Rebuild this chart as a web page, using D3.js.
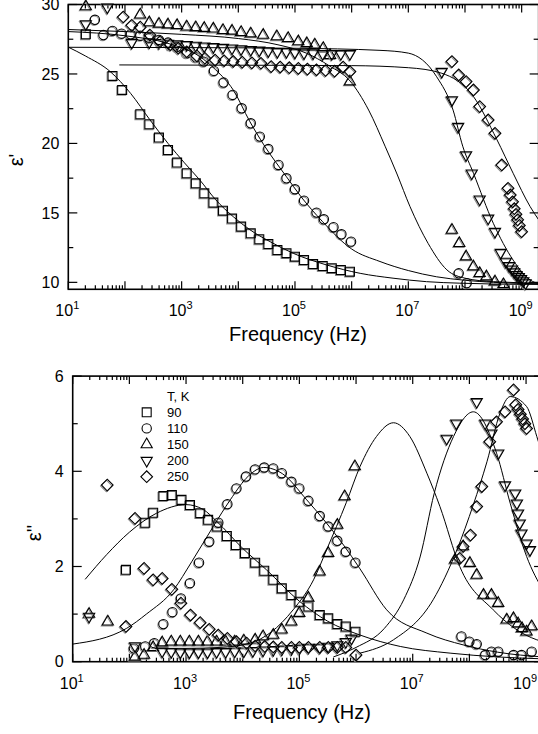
<!DOCTYPE html>
<html>
<head>
<meta charset="utf-8">
<script src="https://cdn.jsdelivr.net/npm/d3@7"></script>
<style>
  body { margin: 0; background: #fff; }
  svg { display: block; font-family: Arial, "Liberation Sans", sans-serif; }
</style>
</head>
<body>
<svg id="chart" width="538" height="734"></svg>
<script>
// frequencies are stored as log10(Hz)
const temps = ['90', '110', '150', '200', '250'];
const symbolNames = ['square', 'circle', 'triangle', 'invTriangle', 'diamond'];
const xTickExps = [1, 3, 5, 7, 9];
const yTicksRe = [10, 15, 20, 25, 30];
const yTicksIm = [0, 2, 4, 6];

// ---- epsilon' (top) ----
const re90 = [[1.31,27.86],[1.78,24.86],[1.95,23.85],[2.27,22.10],[2.43,21.38],[2.60,20.42],[2.76,19.53],[2.92,18.62],[3.09,17.85],[3.25,17.13],[3.40,16.41],[3.56,15.74],[3.73,15.16],[3.89,14.59],[4.05,14.01],[4.22,13.53],[4.37,13.10],[4.53,12.76],[4.69,12.33],[4.85,12.10],[5.00,11.85],[5.16,11.61],[5.32,11.32],[5.49,11.18],[5.65,11.02],[5.81,10.89],[5.97,10.77]];
const re110 = [[1.47,28.9],[1.62,27.8],[1.78,28.1],[1.94,27.9],[2.10,27.85],[2.27,27.75],[2.43,27.6],[2.60,27.45],[2.76,27.26],[2.92,26.95],[3.09,26.49],[3.25,26.2],[3.39,25.89],[3.57,25.22],[3.74,24.38],[3.90,23.49],[4.06,22.53],[4.22,21.45],[4.38,20.49],[4.53,19.6],[4.71,18.45],[4.85,17.49],[5.00,16.70],[5.16,15.88],[5.38,15.02],[5.51,14.54],[5.68,13.97],[5.82,13.46],[5.99,12.93],[7.89,10.65],[8.03,9.94]];
const re150 = [[1.31,29.85],[2.27,29.26],[2.43,28.7],[2.60,28.6],[2.76,28.55],[2.92,28.5],[3.09,28.4],[3.25,28.35],[3.40,28.3],[3.56,28.25],[3.73,28.15],[3.89,28.1],[4.05,28.0],[4.22,27.9],[4.44,27.8],[4.68,27.7],[4.88,27.57],[5.06,27.33],[5.21,27.2],[5.35,27.1],[5.50,26.85],[5.62,26.35],[5.97,24.45],[7.77,13.77],[7.90,12.81],[8.02,11.85],[8.15,11.13],[8.26,10.65],[8.38,10.41],[8.53,10.05],[8.68,9.85]];
const re200 = [[1.31,28.6],[1.69,29.8],[2.12,27.26],[2.43,27.3],[2.60,27.25],[2.76,27.2],[2.92,27.15],[3.09,27.1],[3.25,27.05],[3.40,27.0],[3.56,26.95],[3.73,26.9],[3.89,26.85],[4.05,26.8],[4.22,26.75],[4.37,26.7],[4.53,26.65],[4.69,26.6],[4.85,26.6],[5.00,26.55],[5.16,26.5],[5.32,26.5],[5.49,26.45],[5.65,26.45],[5.81,26.45],[5.97,26.45],[7.59,25.17],[7.77,23.13],[7.88,21.21],[8.02,19.17],[8.12,17.85],[8.26,15.98],[8.41,14.61],[8.53,13.65],[8.63,12.14],[8.72,11.5],[8.78,11.2],[8.83,10.95],[8.87,10.75],[8.91,10.55],[8.95,10.4],[8.99,10.25],[9.03,10.1],[9.07,9.95]];
const re250 = [[1.97,29.1],[2.12,28.5],[2.27,28.37],[2.44,27.8],[2.62,27.33],[2.80,27.1],[2.94,26.85],[3.09,26.6],[3.27,26.3],[3.41,26.13],[3.59,26.0],[3.75,25.95],[3.91,25.9],[4.07,25.85],[4.24,25.8],[4.40,25.77],[4.58,25.53],[4.74,25.5],[4.90,25.45],[5.06,25.4],[5.22,25.35],[5.38,25.3],[5.54,25.25],[5.70,25.2],[5.85,25.5],[5.97,25.17],[7.77,25.89],[7.89,24.93],[8.02,24.45],[8.15,23.85],[8.26,22.65],[8.41,21.69],[8.53,20.73],[8.65,18.45],[8.76,16.77],[8.80,16.29],[8.84,15.8],[8.87,15.3],[8.90,14.9],[8.93,14.5],[8.96,14.1],[9.00,13.65]];

const fitRe90 = [[1.0,26.93],[1.3,26.3],[1.74,25.17],[2.1,23.6],[2.44,21.7],[2.76,20.0],[3.05,18.6],[3.32,17.37],[3.6,15.95],[3.91,14.73],[4.2,13.8],[4.56,12.93],[4.97,12.09],[5.56,11.25],[6.15,10.65],[6.73,10.3],[7.32,10.05],[7.91,9.94],[8.5,9.88],[9.3,9.85]];
const fitRe110 = [[1.0,28.05],[2.0,27.75],[2.76,27.2],[3.32,26.25],[3.6,25.3],[3.91,23.85],[4.2,21.6],[4.45,19.9],[4.85,17.6],[5.1,16.2],[5.48,14.4],[6.0,12.4],[6.5,11.5],[7.0,10.85],[7.5,10.4],[8.0,10.15],[8.5,10.0],[9.3,9.9]];
const fitRe150 = [[1.0,28.2],[2.0,28.05],[3.0,27.85],[4.0,27.55],[4.7,27.1],[5.2,26.5],[5.6,25.6],[5.97,24.5],[6.3,22.4],[6.59,19.8],[6.8,17.8],[7.03,15.45],[7.35,12.8],[7.68,10.9],[8.0,10.3],[8.5,10.05],[9.3,9.95]];
const fitRe200 = [[1.0,26.92],[3.0,26.9],[5.0,26.85],[6.5,26.7],[7.0,26.5],[7.5,24.8],[7.79,22.4],[7.96,19.8],[8.15,17.85],[8.5,14.25],[8.85,11.6],[9.15,10.17],[9.3,9.9]];
const fitRe250 = [[1.9,25.65],[4.0,25.63],[6.0,25.6],[7.0,25.45],[7.59,25.05],[8.15,23.37],[8.56,20.3],[8.85,17.85],[9.15,15.45],[9.3,14.5]];

// ---- epsilon'' (bottom) ----
const im90 = [[1.94,1.93],[2.28,2.92],[2.42,3.13],[2.60,3.48],[2.75,3.50],[2.92,3.40],[3.07,3.29],[3.25,3.12],[3.39,2.98],[3.55,2.84],[3.72,2.64],[3.88,2.45],[4.04,2.28],[4.22,2.08],[4.38,1.91],[4.54,1.72],[4.69,1.54],[4.86,1.40],[5.00,1.26],[5.16,1.16],[5.36,0.98],[5.51,0.91],[5.67,0.79],[5.82,0.74],[5.99,0.63]];
const im110 = [[2.08,0.28],[2.28,0.32],[2.44,0.39],[2.60,0.79],[2.76,1.04],[2.91,1.33],[3.07,1.65],[3.23,2.08],[3.41,2.52],[3.57,2.92],[3.73,3.31],[3.89,3.64],[4.06,3.89],[4.22,4.04],[4.38,4.08],[4.54,4.06],[4.69,3.96],[4.86,3.78],[5.00,3.64],[5.16,3.38],[5.36,3.06],[5.51,2.84],[5.67,2.54],[5.82,2.31],[5.99,2.08],[7.86,0.53],[8.00,0.42],[8.13,0.37],[8.28,0.14],[8.39,0.21],[8.51,0.21],[8.78,0.14],[8.92,0.14],[9.10,0.21]];
const im150 = [[1.29,1.0],[1.62,0.84],[2.10,0.10],[2.26,0.14],[2.42,0.30],[2.58,0.40],[2.74,0.42],[2.90,0.42],[3.06,0.42],[3.22,0.42],[3.38,0.42],[3.54,0.42],[3.70,0.42],[3.86,0.42],[4.02,0.44],[4.22,0.46],[4.36,0.53],[4.54,0.56],[4.69,0.67],[4.86,0.84],[5.00,1.02],[5.16,1.34],[5.36,1.89],[5.51,2.28],[5.67,2.87],[5.80,3.47],[5.98,4.10],[7.75,2.14],[7.89,2.42],[8.01,2.07],[8.13,1.82],[8.25,1.40],[8.39,1.40],[8.51,1.23],[8.66,0.88],[8.78,0.91],[8.86,0.80],[8.93,0.70],[9.01,0.63],[9.10,0.74]];
const im200 = [[1.29,0.95],[2.10,0.33],[2.58,0.22],[2.74,0.21],[2.90,0.20],[3.06,0.20],[3.22,0.20],[3.38,0.20],[3.54,0.21],[3.70,0.21],[3.86,0.22],[4.02,0.22],[4.18,0.23],[4.36,0.24],[4.54,0.25],[4.69,0.26],[4.86,0.27],[5.00,0.28],[5.16,0.30],[5.36,0.30],[5.51,0.32],[5.67,0.35],[5.82,0.42],[5.92,0.49],[7.60,4.69],[7.77,5.01],[8.13,5.46],[8.28,5.01],[8.39,4.80],[8.51,4.38],[8.63,3.71],[8.81,3.54],[8.84,3.33],[8.86,3.12],[8.89,2.91],[8.92,2.70],[9.01,2.49],[9.07,2.35]];
const im250 = [[1.61,3.71],[1.94,0.74],[2.10,3.01],[2.26,1.96],[2.42,1.72],[2.58,1.75],[2.75,1.52],[2.91,1.23],[3.08,0.98],[3.25,0.82],[3.41,0.68],[3.57,0.56],[3.73,0.49],[3.89,0.42],[4.07,0.39],[4.22,0.33],[4.39,0.32],[4.54,0.31],[4.69,0.30],[4.86,0.30],[5.00,0.30],[5.16,0.30],[5.36,0.30],[5.51,0.30],[5.67,0.30],[5.82,0.30],[6.00,0.14],[7.83,2.17],[7.89,2.42],[8.02,2.66],[8.13,3.26],[8.22,3.68],[8.36,4.62],[8.48,5.04],[8.63,5.25],[8.78,5.71],[8.82,5.40],[8.86,5.30],[8.90,5.20],[8.94,5.10],[8.98,5.00],[9.01,4.90]];

const fitIm90 = [[1.22,1.73],[1.6,2.25],[2.0,2.72],[2.48,3.12],[3.0,3.3],[3.3,3.2],[3.54,2.95],[4.0,2.38],[4.42,1.93],[5.0,1.27],[5.5,0.85],[6.07,0.56],[6.78,0.32],[7.66,0.18],[8.5,0.1],[9.3,0.06]];
const fitIm110 = [[1.0,0.37],[1.95,0.70],[2.3,1.0],[2.78,1.51],[3.1,2.1],[3.48,2.84],[3.78,3.40],[4.1,3.9],[4.37,4.08],[4.7,3.95],[5.13,3.40],[5.48,2.91],[5.78,2.45],[6.07,1.95],[6.54,1.09],[7.25,0.6],[7.9,0.35],[8.5,0.2],[9.3,0.1]];
const fitIm150 = [[2.45,0.28],[3.0,0.28],[3.6,0.30],[4.13,0.39],[4.5,0.62],[4.89,1.09],[5.25,1.72],[5.48,2.35],[5.83,3.35],[6.07,4.10],[6.36,4.73],[6.66,5.02],[6.95,4.73],[7.25,3.96],[7.48,3.26],[7.83,2.0],[8.42,1.09],[8.8,0.7],[9.19,0.46],[9.3,0.42]];
const fitIm200 = [[5.6,0.1],[6.0,0.3],[6.5,0.7],[6.84,1.3],[7.13,2.2],[7.38,3.54],[7.72,4.73],[8.07,5.25],[8.48,4.38],[8.72,3.33],[9.01,2.21],[9.3,1.5]];
const fitIm250 = [[6.07,0.18],[6.66,0.46],[7.36,1.30],[7.78,2.35],[8.07,3.3],[8.31,4.2],[8.54,5.22],[8.72,5.57],[9.01,5.36],[9.19,4.73],[9.3,4.3]];

const seriesRe = [re90, re110, re150, re200, re250];
const fitsRe = [fitRe90, fitRe110, fitRe150, fitRe200, fitRe250];
const seriesIm = [im90, im110, im150, im200, im250];
const fitsIm = [fitIm90, fitIm110, fitIm150, fitIm200, fitIm250];

const svg = d3.select('#chart');
const logMax = 9.3;

// marker path for each symbol name
const symbolPath = {
  square: d3.symbol(d3.symbolSquare, 80)(),
  circle: d3.symbol(d3.symbolCircle, 68)(),
  triangle: d3.symbol(d3.symbolTriangle, 54)(),
  invTriangle: d3.symbol(d3.symbolTriangle, 54)(),
  diamond: d3.symbol(d3.symbolSquare, 68)()
};
const symbolRotate = { square: 0, circle: 0, triangle: 0, invTriangle: 180, diamond: 45 };

function drawPanel(opts) {
  const { left, top, bottom, yDomain, yTicks, yMinor, series, fits, clipId } = opts;
  const right = left + (logMax - 1) * 56.67;
  const x = d3.scaleLog().domain([10, Math.pow(10, logMax)]).range([left, right]);
  const y = d3.scaleLinear().domain(yDomain).range([bottom, top]);
  const g = svg.append('g');

  svg.append('defs').append('clipPath').attr('id', clipId)
    .append('rect').attr('x', left).attr('y', top).attr('width', right - left).attr('height', bottom - top);

  // ticks (inside, on all four sides)
  const decades = d3.range(1, 10);
  const minors = [];
  decades.forEach(e => { for (let m = 2; m <= 9; m++) { const v = m * Math.pow(10, e); if (Math.log10(v) <= logMax) minors.push(v); } });
  const tickG = g.append('g').attr('stroke', '#000').attr('stroke-width', 1.2);
  decades.forEach(e => {
    const xv = x(Math.pow(10, e));
    tickG.append('line').attr('x1', xv).attr('x2', xv).attr('y1', bottom).attr('y2', bottom - 8);
    tickG.append('line').attr('x1', xv).attr('x2', xv).attr('y1', top).attr('y2', top + 8);
  });
  minors.forEach(v => {
    const xv = x(v);
    tickG.append('line').attr('x1', xv).attr('x2', xv).attr('y1', bottom).attr('y2', bottom - 4);
    tickG.append('line').attr('x1', xv).attr('x2', xv).attr('y1', top).attr('y2', top + 4);
  });
  yTicks.forEach(v => {
    tickG.append('line').attr('x1', left).attr('x2', left + 9).attr('y1', y(v)).attr('y2', y(v));
    tickG.append('line').attr('x1', right).attr('x2', right - 9).attr('y1', y(v)).attr('y2', y(v));
  });
  yMinor.forEach(v => {
    tickG.append('line').attr('x1', left).attr('x2', left + 5).attr('y1', y(v)).attr('y2', y(v));
    tickG.append('line').attr('x1', right).attr('x2', right - 5).attr('y1', y(v)).attr('y2', y(v));
  });

  // frame
  g.append('rect').attr('x', left).attr('y', top).attr('width', right - left).attr('height', bottom - top)
    .attr('fill', 'none').attr('stroke', '#000').attr('stroke-width', 1.6);

  // tick labels
  g.append('g').selectAll('text').data(yTicks).join('text')
    .attr('x', left - 9).attr('y', d => y(d)).attr('dy', '0.36em')
    .attr('text-anchor', 'end').attr('font-size', 16).text(d => d);
  const xl = g.append('g').selectAll('text').data(xTickExps).join('text')
    .attr('x', d => x(Math.pow(10, d)) - 1).attr('y', bottom + 27)
    .attr('text-anchor', 'middle').attr('font-size', 16);
  xl.append('tspan').text('10');
  xl.append('tspan').attr('dy', -7).attr('font-size', 11).text(d => d);

  // data markers (white filled, grey ghost behind)
  series.forEach((data, i) => {
    const name = symbolNames[i];
    const mg = g.append('g');
    mg.selectAll('path.ghost').data(data).join('path').attr('class', 'ghost')
      .attr('d', symbolPath[name])
      .attr('transform', d => `translate(${x(Math.pow(10, d[0])) - 0.9},${y(d[1]) + 0.9}) rotate(${symbolRotate[name]})`)
      .attr('fill', 'none').attr('stroke', '#8c8c8c').attr('stroke-width', 1.1);
    mg.selectAll('path.mark').data(data).join('path').attr('class', 'mark')
      .attr('d', symbolPath[name])
      .attr('transform', d => `translate(${x(Math.pow(10, d[0]))},${y(d[1])}) rotate(${symbolRotate[name]})`)
      .attr('fill', 'none').attr('stroke', '#000').attr('stroke-width', 1.1);
  });

  // fitted curves
  const line = d3.line()
    .x(d => x(Math.pow(10, d[0])))
    .y(d => y(d[1]))
    .curve(d3.curveMonotoneX);
  g.append('g').attr('clip-path', `url(#${clipId})`)
    .selectAll('path').data(fits).join('path')
    .attr('d', line).attr('fill', 'none').attr('stroke', '#000').attr('stroke-width', 1);

  return { x, y, left, right };
}

const topPanel = drawPanel({
  left: 68.3, top: 4.5, bottom: 289.3, yDomain: [9.5, 30],
  yTicks: yTicksRe, yMinor: [12.5, 17.5, 22.5, 27.5],
  series: seriesRe, fits: fitsRe, clipId: 'clipTop'
});
const botPanel = drawPanel({
  left: 72.7, top: 376.1, bottom: 661.7, yDomain: [0, 6],
  yTicks: yTicksIm, yMinor: [1, 3, 5],
  series: seriesIm, fits: fitsIm, clipId: 'clipBot'
});

// axis titles
svg.append('text').attr('x', 298).attr('y', 341).attr('text-anchor', 'middle')
  .attr('font-size', 20).text('Frequency (Hz)');
svg.append('text').attr('x', 302).attr('y', 719).attr('text-anchor', 'middle')
  .attr('font-size', 20).text('Frequency (Hz)');
svg.append('text').attr('transform', 'translate(23,160) rotate(-90)').attr('text-anchor', 'middle')
  .attr('font-size', 20).text("\u03b5'");
svg.append('text').attr('transform', 'translate(41,533) rotate(-90)').attr('text-anchor', 'middle')
  .attr('font-size', 20).text("\u03b5''");

// legend
const legend = svg.append('g').attr('font-size', 13);
legend.append('text').attr('x', 167).attr('y', 401).text('T, K');
temps.forEach((t, i) => {
  const yy = 412.3 + i * 16.1;
  const name = symbolNames[i];
  legend.append('path').attr('d', symbolPath[name])
    .attr('transform', `translate(146.7,${yy}) rotate(${symbolRotate[name]})`)
    .attr('fill', 'none').attr('stroke', '#000').attr('stroke-width', 1.1);
  legend.append('text').attr('x', 167).attr('y', yy).attr('dy', '0.36em').text(t);
});
</script>
</body>
</html>
